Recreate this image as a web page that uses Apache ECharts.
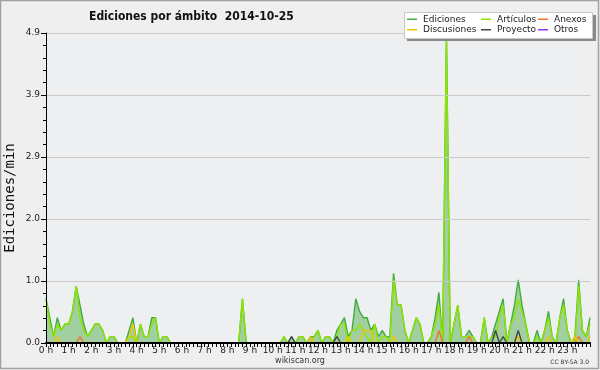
<!DOCTYPE html>
<html>
<head>
<meta charset="utf-8">
<script src="https://cdn.jsdelivr.net/npm/echarts@6/dist/echarts.min.js"></script>
<style>
html,body{margin:0;padding:0;background:#efefef;}
#chart{width:600px;height:370px;}
</style>
</head>
<body>
<div id="chart"></div>
<script>
// 10-minute samples from 0:00 to 24:00 (index / 6 = hour)
const ediciones = [
0.7,0.4,0.1,0.4,0.2,0.3,0.3,0.5,0.9,0.6,
0.3,0.1,0.2,0.3,0.3,0.2,0,0.1,0.1,0,
0,0,0.2,0.4,0,0.3,0.1,0.1,0.4,0.4,
0,0.1,0.1,0,0,0,0,0,0,0,
0,0,0,0,0,0,0,0,0,0,
0,0,0.7,0,0,0,0,0,0,0,
0,0,0,0.1,0,0.1,0,0.1,0.1,0,
0.1,0.1,0.2,0,0.1,0.1,0,0.2,0.3,0.4,
0.1,0.2,0.7,0.5,0.4,0.4,0.2,0.3,0.1,0.2,
0.1,0.1,1.1,0.6,0.6,0.2,0,0.2,0.4,0.3,
0,0,0.1,0.4,0.8,0,4.9,0,0.3,0.6,
0.1,0.1,0.2,0.1,0,0,0.4,0,0.1,0.3,
0.5,0.7,0,0.3,0.6,1.0,0.6,0.3,0,0,
0.2,0,0.2,0.5,0.1,0,0.4,0.7,0.2,0,
0.1,1.0,0.2,0.1,0.4
];
const articulos = [
0.7,0.3,0.1,0.3,0.2,0.3,0.3,0.5,0.9,0.4,
0.2,0.1,0.2,0.3,0.3,0.2,0,0.1,0.1,0,
0,0,0.1,0.1,0,0.3,0.1,0.1,0.3,0.4,
0,0.1,0.1,0,0,0,0,0,0,0,
0,0,0,0,0,0,0,0,0,0,
0,0,0.7,0,0,0,0,0,0,0,
0,0,0,0.1,0,0,0,0.1,0.1,0,
0,0.1,0.2,0,0.1,0.1,0,0.1,0.3,0.3,
0,0.2,0.2,0.3,0.2,0.1,0,0.3,0,0.1,
0.1,0,1.0,0.6,0.6,0.2,0,0.2,0.4,0.3,
0,0,0.1,0.3,0.6,0,4.8,0,0.3,0.6,
0.1,0.1,0.1,0.1,0,0,0.4,0,0.1,0.1,
0.4,0.6,0,0.3,0.4,0.7,0.5,0.3,0,0,
0.1,0,0.2,0.4,0.1,0,0.4,0.6,0.2,0,
0,0.9,0.2,0.1,0.3
];
const anexos = new Array(145).fill(0);
const anexosPoints = [[9,0.1],[104,0.2],[112,0.1],[141,0.1]];
const discusiones = new Array(145).fill(0);
const discusionesPoints = [[3,0.1],[22,0.1],[23,0.3],[70,0.1],[80,0.1],[84,0.2],[85,0.2],[86,0.2],[92,0.1],[125,0.1],[133,0.1],[140,0.1],[144,0.1]];
const proyecto = new Array(145).fill(0);
const proyectoPoints = [[65,0.1],[77,0.1],[119,0.2],[121,0.1],[125,0.2]];
const otros = new Array(145).fill(0);
anexosPoints.forEach(p => anexos[p[0]] = p[1]);
discusionesPoints.forEach(p => discusiones[p[0]] = p[1]);
proyectoPoints.forEach(p => proyecto[p[0]] = p[1]);

const hourLabels = ['0 h','1 h','2 h','3 h','4 h','5 h','6 h','7 h','8 h','9 h','10 h','11 h',
  '12 h','13 h','14 h','15 h','16 h','17 h','18 h','19 h','20 h','21 h','22 h','23 h'];
const yTickLabels = ['0.0','1.0','2.0','2.9','3.9','4.9'];

const toXY = arr => arr.map((v, i) => [i / 6, v]);

const chart = echarts.init(document.getElementById('chart'), null, {renderer: 'canvas'});
const font = 'DejaVu Sans';
const lineSeries = (name, data, color, extra) => Object.assign({
  name, type: 'line', data: toXY(data), symbol: 'none', smooth: false,
  lineStyle: {color, width: 1.4}, itemStyle: {color}, animation: false
}, extra || {});

const legendCommon = {
  orient: 'vertical', icon: 'rect', itemWidth: 10, itemHeight: 1.5, itemGap: 0, z: 10,
  textStyle: {fontSize: 9, fontFamily: font, color: '#222', padding: [0,0,0,1], lineHeight: 10.5},
  selectedMode: false, padding: 0
};

chart.setOption({
  backgroundColor: '#efefef',
  animation: false,
  title: {
    text: 'Ediciones por ámbito  2014-10-25', left: 84, top: 6,
    textStyle: {fontSize: 12, fontWeight: 'bold', fontFamily: "'DejaVu Sans Condensed', 'DejaVu Sans'", color: '#111'}
  },
  grid: {left: 46, right: 10, top: 33, bottom: 27, show: true, backgroundColor: '#eeeff1', borderWidth: 0},
  xAxis: {
    type: 'value', min: 0, max: 24, interval: 1, z: 5,
    axisLine: {lineStyle: {color: '#000', width: 2}},
    axisTick: {show: true, length: 4, lineStyle: {color: '#000'}},
    minorTick: {show: true, splitNumber: 6, length: 4, lineStyle: {color: '#000'}},
    axisLabel: {formatter: v => hourLabels[Math.round(v)] || '', fontSize: 9, fontFamily: font, color: '#222', margin: 3},
    splitLine: {show: false}
  },
  yAxis: {
    type: 'value', min: 0, max: 4.9, interval: 0.98, z: 5,
    axisLine: {show: true, lineStyle: {color: '#000'}},
    axisTick: {show: true, length: 5, lineStyle: {color: '#000'}},
    minorTick: {show: true, splitNumber: 5, length: 3, lineStyle: {color: '#000'}},
    axisLabel: {formatter: v => yTickLabels[Math.round(v / 0.98)] || '', fontSize: 9, fontFamily: font, color: '#222', margin: 6},
    splitLine: {lineStyle: {color: '#cacaca'}}
  },
  legend: [
    Object.assign({left: 407, top: 14, data: ['Ediciones', 'Discusiones']}, legendCommon),
    Object.assign({left: 481, top: 14, data: ['Artículos', 'Proyecto']}, legendCommon),
    Object.assign({left: 538, top: 14, data: ['Anexos', 'Otros']}, legendCommon)
  ],
  graphic: [
    {type: 'rect', shape: {x: 0.5, y: 0.5, width: 598, height: 368}, style: {fill: 'none', stroke: '#a0a0a0', lineWidth: 1.5}, z: 0, silent: true},
    {type: 'rect', shape: {x: 407, y: 15, width: 189, height: 26}, style: {fill: '#8a8a8a'}, z: 6, silent: true},
    {type: 'rect', shape: {x: 404.5, y: 12.5, width: 188, height: 26}, style: {fill: '#ffffff', stroke: '#c8c8c8', lineWidth: 1}, z: 7, silent: true},
    {type: 'text', x: 10, y: 198, rotation: Math.PI / 2, style: {text: 'Ediciones/min', font: "14px 'DejaVu Sans Mono'", fill: '#111', textAlign: 'center', textVerticalAlign: 'middle'}, silent: true},
    {type: 'text', x: 300, y: 361, style: {text: 'wikiscan.org', font: "8px 'DejaVu Sans'", fill: '#333', textAlign: 'center', textVerticalAlign: 'middle'}, silent: true},
    {type: 'text', x: 589, y: 362, style: {text: 'CC BY-SA 3.0', font: "6px 'DejaVu Sans'", fill: '#333', textAlign: 'right', textVerticalAlign: 'middle'}, silent: true}
  ],
  series: [
    lineSeries('Ediciones', ediciones, '#3fae3f', {areaStyle: {color: '#a2cfa2', opacity: 1}}),
    lineSeries('Artículos', articulos, '#8fe400'),
    lineSeries('Anexos', anexos, '#f0742a'),
    lineSeries('Discusiones', discusiones, '#f5c400'),
    lineSeries('Proyecto', proyecto, '#444444'),
    lineSeries('Otros', otros, '#9b30ff')
  ]
});
</script>
</body>
</html>
